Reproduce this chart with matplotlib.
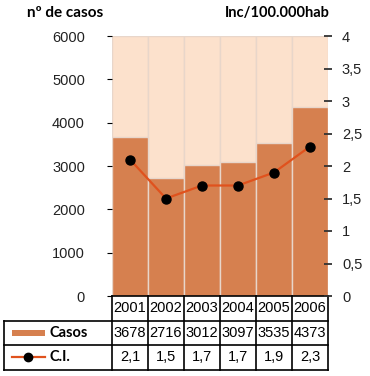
import matplotlib.pyplot as plt
from matplotlib.patches import Rectangle
from matplotlib.lines import Line2D
from matplotlib.ticker import FuncFormatter

years = ['2001', '2002', '2003', '2004', '2005', '2006']
casos = [3678, 2716, 3012, 3097, 3535, 4373]
ci = [2.1, 1.5, 1.7, 1.7, 1.9, 2.3]
ci_labels = ['2,1', '1,5', '1,7', '1,7', '1,9', '2,3']

PEACH = '#fce1cc'
BAR = '#d6804f'
SEP = '#e8d6ca'
LINE = '#e0521d'
W, H = 370, 376

plt.rcParams['font.family'] = ['Liberation Sans', 'DejaVu Sans']

fig = plt.figure(figsize=(W / 100, H / 100), dpi=100)
ax = fig.add_axes([112 / W, 80 / H, 216 / W, 260 / H])

x = list(range(len(years)))
ymax = 6000
ax.bar(x, [ymax] * len(x), width=1, color=PEACH, edgecolor=SEP, linewidth=1)
ax.bar(x, casos, width=1, color=BAR, edgecolor=SEP, linewidth=1)
ax.set_xlim(-0.5, len(x) - 0.5)
ax.set_ylim(0, ymax)
ax.set_yticks(range(0, 6001, 1000))
ax.tick_params(axis='y', left=False, pad=16, labelsize=10.5, labelcolor='#222222')
ax.tick_params(axis='x', bottom=False, labelbottom=False)
for s in ax.spines.values():
    s.set_visible(False)

ax2 = ax.twinx()
ax2.plot(x, ci, color=LINE, lw=1.6, marker='o', ms=6.5, mfc='black', mec='black', zorder=3)
ax2.set_ylim(0, 4)
ax2.set_yticks([i * 0.5 for i in range(9)])
ax2.yaxis.set_major_formatter(FuncFormatter(lambda v, p: ('%g' % v).replace('.', ',')))
ax2.tick_params(axis='y', direction='inout', length=6, width=1.3, color='#333333',
                pad=7, labelsize=10.5, labelcolor='#222222')
for s in ax2.spines.values():
    s.set_visible(False)

# titles
fig.text(65 / W, 1 - 13 / H, 'nº de casos', ha='center', va='center',
         fontsize=11, fontweight='bold', family=['Lato', 'DejaVu Sans'])
fig.text(330 / W, 1 - 13 / H, 'Inc/100.000hab', ha='right', va='center',
         fontsize=10.5, fontweight='bold', family=['Lato', 'DejaVu Sans'])

# data table under the chart
tr = ax.get_xaxis_transform()
h = 24.5 / 260
lab_left = -3.5
kw = dict(transform=tr, clip_on=False, color='black', lw=1.2)
ax.add_line(Line2D([-0.5, len(x) - 0.5], [0, 0], **kw))
for r in (1, 2, 3):
    ax.add_line(Line2D([lab_left, len(x) - 0.5], [-r * h, -r * h], **kw))
for i in range(len(x) + 1):
    ax.add_line(Line2D([i - 0.5, i - 0.5], [0, -3 * h], **kw))
ax.add_line(Line2D([lab_left, lab_left], [-h, -3 * h], **kw))

for i in x:
    ax.text(i, -0.5 * h, years[i], transform=tr, ha='center', va='center', fontsize=10.5)
    ax.text(i, -1.5 * h, str(casos[i]), transform=tr, ha='center', va='center', fontsize=10.5)
    ax.text(i, -2.5 * h, ci_labels[i], transform=tr, ha='center', va='center', fontsize=10.5)

# legend glyphs in row labels
ax.add_patch(Rectangle((-3.28, -1.5 * h - 0.012), 0.92, 0.024, transform=tr,
                       clip_on=False, color=BAR, lw=0))
ax.add_line(Line2D([-3.28, -2.36], [-2.5 * h, -2.5 * h], transform=tr, clip_on=False,
                   color=LINE, lw=1.6))
ax.add_line(Line2D([-2.82], [-2.5 * h], transform=tr, clip_on=False, marker='o',
                   ms=6, mfc='black', mec='black', lw=0))
ax.text(-2.25, -1.5 * h, 'Casos', transform=tr, ha='left', va='center', fontsize=10.5,
        fontweight='bold', family=['Lato', 'DejaVu Sans'])
ax.text(-2.25, -2.5 * h, 'C.I.', transform=tr, ha='left', va='center', fontsize=10.5,
        fontweight='bold', family=['Lato', 'DejaVu Sans'])

fig.savefig('out.png', dpi=100)
